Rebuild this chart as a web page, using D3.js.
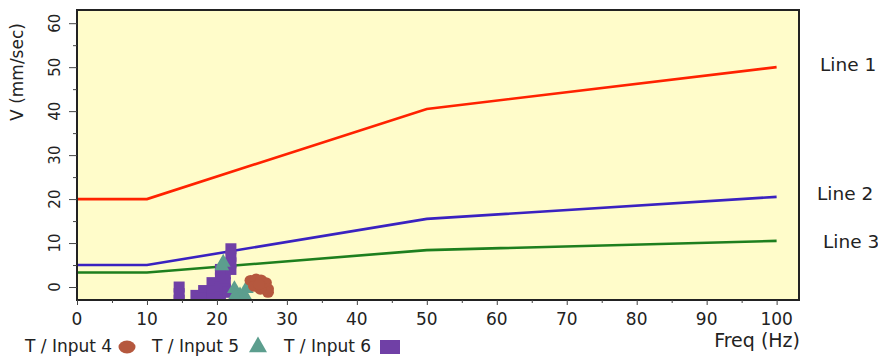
<!DOCTYPE html>
<html>
<head>
<meta charset="utf-8">
<script src="https://cdn.jsdelivr.net/npm/d3@7"></script>
<style>
  body { margin: 0; background: #fff; }
  text { font-family: "DejaVu Sans", Verdana, sans-serif; fill: #222; }
</style>
</head>
<body>
<div id="viz"></div>
<script>
// chart data
let freqPts = [0, 10, 50, 100]
let line1 = [20, 20, 40.5, 50]
let line2 = [5, 5, 15.5, 20.5]
let line3 = [3.3, 3.3, 8.4, 10.5]
let lineNames = ["Line 1", "Line 2", "Line 3"]

let xTicks = [0, 10, 20, 30, 40, 50, 60, 70, 80, 90, 100]
let yTicks = [0, 10, 20, 30, 40, 50, 60]

// scatter blobs (freq, V)
let input4 = [[24.8, 1.5], [25.6, 1.8], [26.3, 1.6], [27.0, 1.0], [27.3, -0.4], [27.3, -1.2], [26.2, -0.5], [25.3, 0.2], [26.0, 0.6]]
let input5 = [[22.5, -0.4], [24.2, -0.4], [23.3, -1.8], [22.6, -2.0], [24.0, -2.0], [20.9, 5.6], [20.7, 4.8]]
let input6 = [[14.6, 0.0], [14.6, -1.5], [14.6, -3.0], [17.0, -1.9], [17.3, -3.3], [18.1, -0.8], [18.1, -2.6],
              [19.3, 1.0], [19.3, -1.0], [19.3, -2.8], [20.5, 4.0], [20.5, 2.0], [20.5, 0.0], [20.5, -2.2],
              [21.2, 3.0], [21.2, 1.0], [21.2, -0.5], [22.0, 8.7], [22.0, 7.0], [22.0, 5.5], [22.0, 4.0], [21.6, -1.2]]
let legendNames = ["T / Input 4", "T / Input 5", "T / Input 6"]

let width = 878, height = 357
let svg = d3.select('#viz').append('svg').attr("width", width).attr("height", height)

let x = d3.scaleLinear().domain([0, 103.2]).range([77, 799])
let y = d3.scaleLinear().domain([-2.95, 63]).range([300, 10])

// plot background
svg.append("rect").attr("x", x(0)).attr("y", y(63)).attr("width", x(103.2) - x(0)).attr("height", y(-2.95) - y(63))
   .attr("fill", "#fffcca")

svg.append("clipPath").attr("id", "plotClip").append("rect")
   .attr("x", x(0)).attr("y", y(63)).attr("width", x(103.2) - x(0)).attr("height", y(-2.95) - y(63))

// lines
let lineGen = d3.line().x((d, i) => x(freqPts[i])).y(d => y(d))
let lineColors = ["#ff2200", "#3a22c0", "#1e7f1e"]
;[line1, line2, line3].forEach((ln, k) => {
    svg.append("path").attr("d", lineGen(ln)).attr("fill", "none")
       .attr("stroke", lineColors[k]).attr("stroke-width", 2.6)
})

// scatter
let sc = svg.append("g").attr("clip-path", "url(#plotClip)")
sc.selectAll(".sq").data(input6).enter().append("rect")
  .attr("x", d => x(d[0]) - 5.5).attr("y", d => y(d[1]) - 5.5).attr("width", 11).attr("height", 11)
  .attr("fill", "#7040a6")
sc.selectAll(".tri").data(input5).enter().append("path")
  .attr("d", d3.symbol().type(d3.symbolTriangle).size(95))
  .attr("transform", d => `translate(${x(d[0])},${y(d[1])})`)
  .attr("fill", "#5c9e8e")
sc.selectAll(".circ").data(input4).enter().append("ellipse")
  .attr("cx", d => x(d[0])).attr("cy", d => y(d[1])).attr("rx", 6).attr("ry", 5.5)
  .attr("fill", "#b5583e")

// frame
svg.append("rect").attr("x", x(0)).attr("y", y(63)).attr("width", x(103.2) - x(0)).attr("height", y(-2.95) - y(63))
   .attr("fill", "none").attr("stroke", "#222").attr("stroke-width", 2)

// y axis
let yAxis = svg.append("g").attr("transform", `translate(${x(0)},0)`)
    .call(d3.axisLeft(y).tickValues(yTicks).tickSize(8).tickFormat(""))
yAxis.select(".domain").remove()
yAxis.selectAll("line").attr("stroke", "#444")
let yMinor = svg.append("g").attr("transform", `translate(${x(0)},0)`)
    .call(d3.axisLeft(y).tickValues(yTicks.slice(0, -1).map(v => v + 5)).tickSize(4).tickFormat(""))
yMinor.select(".domain").remove()
yMinor.selectAll("line").attr("stroke", "#444")

svg.selectAll(".ylab").data(yTicks).enter().append("text")
   .attr("transform", d => `translate(${x(0) - 17},${y(d)}) rotate(-90)`)
   .attr("text-anchor", "middle").attr("font-size", 15).text(d => d)

svg.append("text").attr("transform", `translate(23,72) rotate(-90)`)
   .attr("text-anchor", "middle").attr("font-size", 17).text("V (mm/sec)")

// x axis
let xAxis = svg.append("g").attr("transform", `translate(0,${y(-2.95)})`)
    .call(d3.axisBottom(x).tickValues(xTicks).tickSize(5).tickFormat(""))
xAxis.select(".domain").remove()
xAxis.selectAll("line").attr("stroke", "#444")
let xMinor = svg.append("g").attr("transform", `translate(0,${y(-2.95)})`)
    .call(d3.axisBottom(x).tickValues(xTicks.slice(0, -1).map(v => v + 5)).tickSize(3).tickFormat(""))
xMinor.select(".domain").remove()
xMinor.selectAll("line").attr("stroke", "#444")

svg.selectAll(".xlab").data(xTicks).enter().append("text")
   .attr("x", d => x(d)).attr("y", 325).attr("text-anchor", "middle").attr("font-size", 17).text(d => d)

svg.append("text").attr("x", 800).attr("y", 347).attr("text-anchor", "end").attr("font-size", 19).text("Freq (Hz)")

// line labels
let labelPos = [[820, 71], [817, 200], [823, 248]]
lineNames.forEach((n, i) => {
    svg.append("text").attr("x", labelPos[i][0]).attr("y", labelPos[i][1]).attr("font-size", 18.5).text(n)
})

// legend
let legX = [25, 152, 284]
legendNames.forEach((n, i) => {
    svg.append("text").attr("x", legX[i]).attr("y", 352).attr("font-size", 17).text(n)
})
svg.append("ellipse").attr("cx", 127).attr("cy", 347).attr("rx", 8.5).attr("ry", 6.5).attr("fill", "#b5583e")
svg.append("path").attr("d", d3.symbol().type(d3.symbolTriangle).size(140)).attr("transform", "translate(258,347)").attr("fill", "#5c9e8e")
svg.append("rect").attr("x", 380).attr("y", 340).attr("width", 20).attr("height", 14).attr("fill", "#7040a6")
</script>
</body>
</html>
